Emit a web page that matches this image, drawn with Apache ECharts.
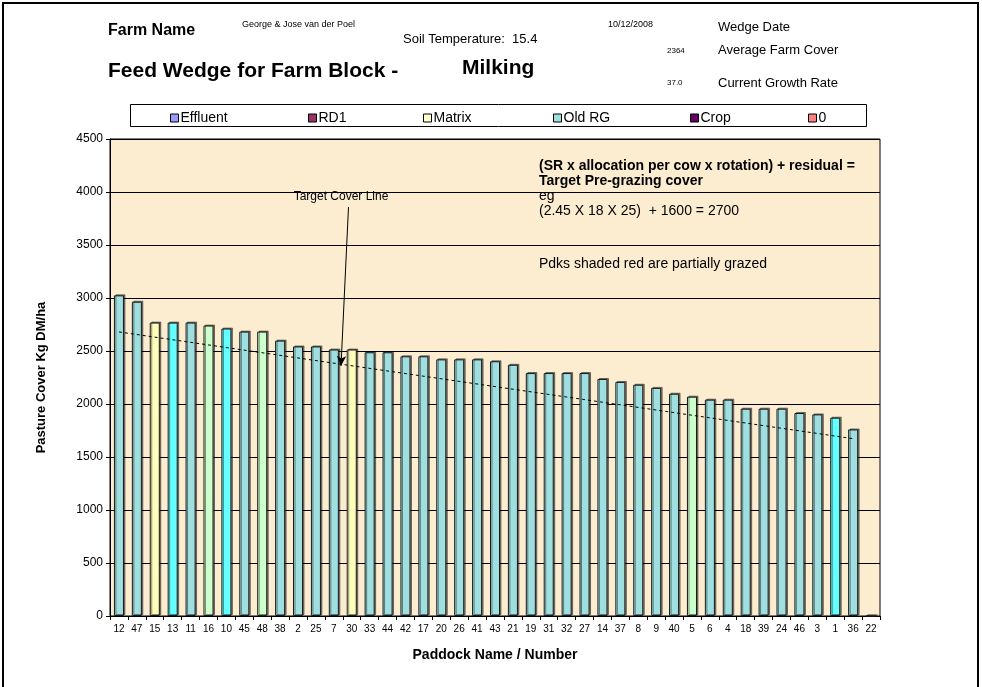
<!DOCTYPE html>
<html><head><meta charset="utf-8">
<script src="https://cdn.jsdelivr.net/npm/echarts@6/dist/echarts.min.js"></script>
<style>html,body{margin:0;padding:0;background:#fff}#c{width:982px;height:687px}</style>
</head><body><div id="c"></div>
<script>
const paddocks = ['12','47','15','13','11','16','10','45','48','38','2','25','7','30','33','44','42','17','20','26','41','43','21','19','31','32','27','14','37','8','9','40','5','6','4','18','39','24','46','3','1','36','22'];
const cover = [3025,2965,2768,2768,2768,2740,2712,2683,2683,2598,2543,2543,2514,2514,2488,2488,2450,2450,2421,2421,2421,2403,2370,2292,2292,2292,2292,2236,2208,2182,2152,2097,2069,2041,2041,1956,1956,1956,1915,1902,1871,1760,0];
const pastureType = ['Old RG','Old RG','Matrix','Cyan','Old RG','Green','Cyan','Old RG','Green','Old RG','Old RG','Old RG','Old RG','Matrix','Old RG','Old RG','Old RG','Old RG','Old RG','Old RG','Old RG','Old RG','Old RG','Old RG','Old RG','Old RG','Old RG','Old RG','Old RG','Old RG','Old RG','Old RG','Green','Old RG','Old RG','Old RG','Old RG','Old RG','Old RG','Old RG','Cyan','Old RG','Old RG'];
const trendStart = ['12', 2680];
const trendEnd = ['36', 1673];
const legendNames = ['Effluent','RD1','Matrix','Old RG','Crop','0'];
const yTicks = [0,500,1000,1500,2000,2500,3000,3500,4000,4500];

const typeColor = {'Old RG':'#a0dfe0','Matrix':'#ffffbb','Cyan':'#66ffff','Green':'#ccffcc'};
const legendColor = {'Effluent':'#9999ff','RD1':'#993366','Matrix':'#ffffcc','Old RG':'#a0dfe0','Crop':'#660066','0':'#ff8080'};
const legendX = [170,308,423,553,690,808];
const F = '"Liberation Sans", Arial, sans-serif';

const chart = echarts.init(document.getElementById('c'), null, {renderer:'canvas'});

const legends = legendNames.map((n,i)=>({
  left: legendX[i], top: 111, padding: 0, itemWidth: 8, itemHeight: 8, itemGap: 0,
  selectedMode: false,
  textStyle: {fontFamily: F, fontSize: 14, color: '#000', padding:[0,0,0,-3]},
  data: [{name: n, icon: 'rect', itemStyle: {color: legendColor[n], borderColor: '#000', borderWidth: 1}}]
}));

const dummy = legendNames.map(n=>({name:n, type:'line', data:[], itemStyle:{color:legendColor[n]}}));

function t2(x,y,t,size,bold,align){
  return {type:'text', x:x, y:y, z:10, style:{text:t, font:(bold?'bold ':'')+size+'px '+F, fill:'#000', textAlign:align||'left', textVerticalAlign:'middle'}};
}

chart.setOption({
  backgroundColor: '#fff',
  animation: false,
  legend: legends,
  grid: {left:110, right:102, top:139, bottom:71, show:true, backgroundColor:'#fcecd0', borderColor:'#000', borderWidth:1},
  xAxis: {
    type:'category', data: paddocks,
    name:'Paddock Name / Number', nameLocation:'middle', nameGap:32,
    nameTextStyle:{fontFamily:F, fontSize:14, fontWeight:'bold', color:'#000'},
    axisLine:{lineStyle:{color:'#000', width:1}},
    axisTick:{show:true, length:4, lineStyle:{color:'#000'}},
    axisLabel:{interval:0, fontFamily:F, fontSize:10, color:'#000', margin:8}
  },
  yAxis: {
    type:'value', min:0, max:4500, interval:500,
    name:'Pasture Cover Kg DM/ha', nameLocation:'middle', nameGap:62,
    nameTextStyle:{fontFamily:F, fontSize:13, fontWeight:'bold', color:'#000'},
    axisLine:{show:true, lineStyle:{color:'#000'}},
    axisTick:{show:true, length:4, lineStyle:{color:'#000'}},
    axisLabel:{fontFamily:F, fontSize:12, color:'#000', margin:7,
      formatter: v => yTicks.includes(v) ? String(v) : ''},
    splitLine:{show:true, lineStyle:{color:'#000', width:1}}
  },
  series: [
    {
      name:'Cover', type:'bar', barWidth:'56%', z:3,
      data: cover.map((v,i)=>({value:v, itemStyle:{color:typeColor[pastureType[i]]}})),
      itemStyle:{borderColor:'#1a1a1a', borderWidth:1, shadowColor:'rgba(0,0,0,0.45)', shadowOffsetX:1.5, shadowOffsetY:-1, shadowBlur:0}
    },
    {
      name:'Trend', type:'line', z:5, symbol:'none', silent:true,
      data:[trendStart, trendEnd],
      lineStyle:{color:'#000', width:1, type:[3,3]},
      markLine:{
        silent:true, symbol:['none','arrow'], symbolSize:[7,10],
        lineStyle:{color:'#000', width:1, type:'solid'},
        label:{show:false},
        data:[[{x:348.5, y:207},{x:341, y:366}]]
      }
    }
  ].concat(dummy),
  graphic: [
    {type:'rect', shape:{x:3, y:3, width:975, height:700}, style:{fill:'none', stroke:'#000', lineWidth:2}, z:0},
    {type:'rect', shape:{x:130.5, y:104.5, width:736, height:22}, style:{fill:'#fff', stroke:'#000', lineWidth:1}, z:-1},
    t2(108,31,'Farm Name',16,true),
    t2(242,25,'George & Jose van der Poel',9,false),
    t2(403,39,'Soil Temperature:  15.4',13,false),
    t2(608,25,'10/12/2008',9,false),
    t2(718,27,'Wedge Date',13,false),
    t2(667,51,'2364',8,false),
    t2(718,50,'Average Farm Cover',13,false),
    t2(108,71,'Feed Wedge for Farm Block -',21,true),
    t2(462,68,'Milking',21,true),
    t2(667,83,'37.0',8,false),
    t2(718,83,'Current Growth Rate',13,false),
    t2(539,166,'(SR x allocation per cow x rotation) + residual =',14,true),
    t2(539,181,'Target Pre-grazing cover',14,true),
    t2(539,196,'eg',14,false),
    t2(539,211,'(2.45 X 18 X 25)  + 1600 = 2700',14,false),
    t2(539,264,'Pdks shaded red are partially grazed',14,false),
    t2(341,197,'Target Cover Line',12,false,'center')
  ]
});
</script>
</body></html>
